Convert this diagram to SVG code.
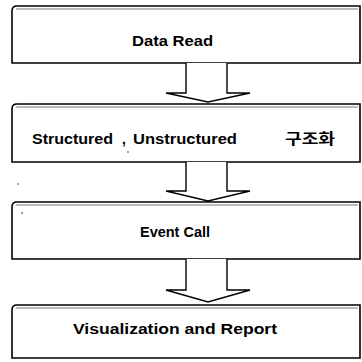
<svg xmlns="http://www.w3.org/2000/svg" width="362" height="362" viewBox="0 0 362 362">
  <style>
    .box { fill: #ffffff; stroke: #000000; stroke-width: 1.6; }
    .rule { fill: none; stroke: #555555; stroke-width: 0.8; }
    .arrow { fill: #ffffff; stroke: #000000; stroke-width: 1.4; stroke-linejoin: miter; }
    .label { font-family: "Liberation Sans", Arial, sans-serif; font-weight: bold; font-size: 14px; fill: #000000; }
    .ko { font-family: "Liberation Sans", "Noto Sans CJK KR", sans-serif; font-weight: bold; font-size: 15px; fill: #000000; }
    .speck { fill: #222222; }
  </style>

  <rect width="362" height="362" fill="#ffffff"/>

  <!-- process steps -->
  <g id="step-data-read">
    <path class="box" d="M12,63 V11 Q12,6 17,6 H360 V63 Z"/>
    <line class="rule" x1="16" y1="9" x2="358" y2="9"/>
    <text class="label" x="132" y="46" textLength="81" lengthAdjust="spacingAndGlyphs">Data Read</text>
  </g>

  <g id="step-structuring">
    <path class="box" d="M12,162 V109 Q12,104 17,104 H360 V162 Z"/>
    <line class="rule" x1="16" y1="107" x2="358" y2="107"/>
    <text class="label" x="32" y="144" textLength="81" lengthAdjust="spacingAndGlyphs">Structured</text>
    <text class="label" x="122" y="144">,</text>
    <text class="label" x="133" y="144" textLength="104" lengthAdjust="spacingAndGlyphs">Unstructured</text>
    <text class="ko" x="285" y="144" textLength="50" lengthAdjust="spacingAndGlyphs">구조화</text>
    <circle class="speck" cx="128" cy="152" r="0.8"/>
  </g>

  <g id="step-event-call">
    <path class="box" d="M12,259 V207 Q12,202 17,202 H360 V259 Z"/>
    <line class="rule" x1="16" y1="205" x2="358" y2="205"/>
    <text class="label" x="140" y="237" textLength="70" lengthAdjust="spacingAndGlyphs">Event Call</text>
    <circle class="speck" cx="22" cy="213" r="0.8"/>
  </g>

  <g id="step-visualization">
    <path class="box" d="M12,358 V310 Q12,305 17,305 H360 V358 Z"/>
    <line class="rule" x1="16" y1="308" x2="358" y2="308"/>
    <text class="label" x="73" y="334" textLength="204" lengthAdjust="spacingAndGlyphs">Visualization and Report</text>
  </g>

  <circle class="speck" cx="18" cy="184" r="0.7"/>

  <!-- block arrows between steps -->
  <g id="connectors">
    <path class="arrow" d="M186,63 V93 H166 L208,102 L250,93 H227 V63"/>
    <path class="arrow" d="M186,162 V191 H166 L208,201 L250,191 H227 V162"/>
    <path class="arrow" d="M186,259 V290 H166 L208,302 L250,290 H227 V259"/>
  </g>
</svg>
